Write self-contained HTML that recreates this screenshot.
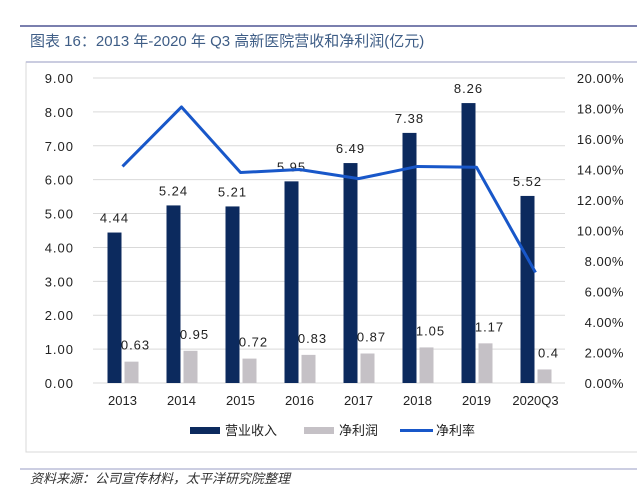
<!DOCTYPE html>
<html><head><meta charset="utf-8"><style>
body{margin:0;width:637px;height:494px;background:#fff;overflow:hidden;font-family:"Liberation Sans","Noto Sans CJK SC",sans-serif}
svg text{font-family:"Liberation Sans","Noto Sans CJK SC",sans-serif}
</style></head><body>
<svg id="c" width="637" height="494">
<line x1="20" y1="26" x2="637" y2="26" stroke="#7a7fae" stroke-width="2"/>
<text x="30" y="46" font-size="15" fill="#3e5d86">图表 16：2013 年-2020 年 Q3 高新医院营收和净利润(亿元)</text>
<rect x="26" y="62" width="615" height="390" fill="none" stroke="#d8d8d8"/>
<line x1="26" y1="62" x2="637" y2="62" stroke="#b9bcd6" stroke-width="1.5"/>
<line x1="20" y1="469" x2="637" y2="469" stroke="#9a9ec4" stroke-width="1"/>
<text x="30" y="483" font-size="13" font-style="italic" fill="#333">资料来源：公司宣传材料，太平洋研究院整理</text>
<g id="plot"></g>
<g>
<rect x="190" y="427" width="30" height="7" fill="#0c2a5e"/>
<text x="225" y="435" font-size="13" fill="#222">营业收入</text>
<rect x="304" y="427" width="30" height="7" fill="#c5c1c6"/>
<text x="339" y="435" font-size="13" fill="#222">净利润</text>
<line x1="400" y1="430.5" x2="433" y2="430.5" stroke="#1857c9" stroke-width="3"/>
<text x="436" y="435" font-size="13" fill="#222">净利率</text>
</g>
</svg>
<script>
const categories=["2013","2014","2015","2016","2017","2018","2019","2020Q3"];
const revenue=[4.44,5.24,5.21,5.95,6.49,7.38,8.26,5.52];
const profit=[0.63,0.95,0.72,0.83,0.87,1.05,1.17,0.4];
const margin=[14.2,18.1,13.8,14.0,13.4,14.2,14.15,7.25];
const leftTicks=["0.00","1.00","2.00","3.00","4.00","5.00","6.00","7.00","8.00","9.00"];
const rightTicks=["0.00%","2.00%","4.00%","6.00%","8.00%","10.00%","12.00%","14.00%","16.00%","18.00%","20.00%"];
const NS="http://www.w3.org/2000/svg";
const g=document.getElementById('plot');
const X0=93,X1=565,Y0=383,Y1=78;
const step=(X1-X0)/categories.length;
const xc=i=>X0+step*(i+0.5);
const yL=v=>Y0-(v/9)*(Y0-Y1);
const yR=v=>Y0-(v/20)*(Y0-Y1);
function mk(t,a){const e=document.createElementNS(NS,t);for(const k in a)e.setAttribute(k,a[k]);g.appendChild(e);return e;}
leftTicks.forEach((t,i)=>{const y=yL(+t);
const l=mk('line',{x1:X0,x2:X1,y1:y,y2:y,stroke:'#d9d9d9'});


const tx=mk('text',{x:74,y:y+5,'font-size':13,fill:'#222','text-anchor':'end','letter-spacing':'1'});tx.textContent=t;

});
rightTicks.forEach(t=>{const y=yR(parseFloat(t));
const tx=mk('text',{x:624,y:y+5,'font-size':13,fill:'#222','text-anchor':'end','letter-spacing':'0.5'});tx.textContent=t;

});
categories.forEach((c,i)=>{const x=xc(i);
const b=mk('rect',{x:x-15,y:yL(revenue[i]),width:14,height:Y0-yL(revenue[i]),fill:'#0c2a5e'});


const p=mk('rect',{x:x+2,y:yL(profit[i]),width:14,height:Y0-yL(profit[i]),fill:'#c5c1c6'});


const t1=mk('text',{x:x-8,y:yL(revenue[i])-10,'font-size':13,fill:'#222','text-anchor':'middle','letter-spacing':'1'});t1.textContent=revenue[i].toFixed(2);


const t2=mk('text',{x:x+13,y:yL(profit[i])-12,'font-size':13,fill:'#222','text-anchor':'middle','letter-spacing':'1'});t2.textContent=String(profit[i]);


const cl=mk('text',{x:x,y:405,'font-size':13,fill:'#222','text-anchor':'middle'});cl.textContent=c;

});
const pts=margin.map((v,i)=>xc(i)+','+yR(v)).join(' ');
const ln=mk('polyline',{points:pts,fill:'none',stroke:'#1857c9','stroke-width':3,'stroke-linejoin':'round'});


</script>
</body></html>
